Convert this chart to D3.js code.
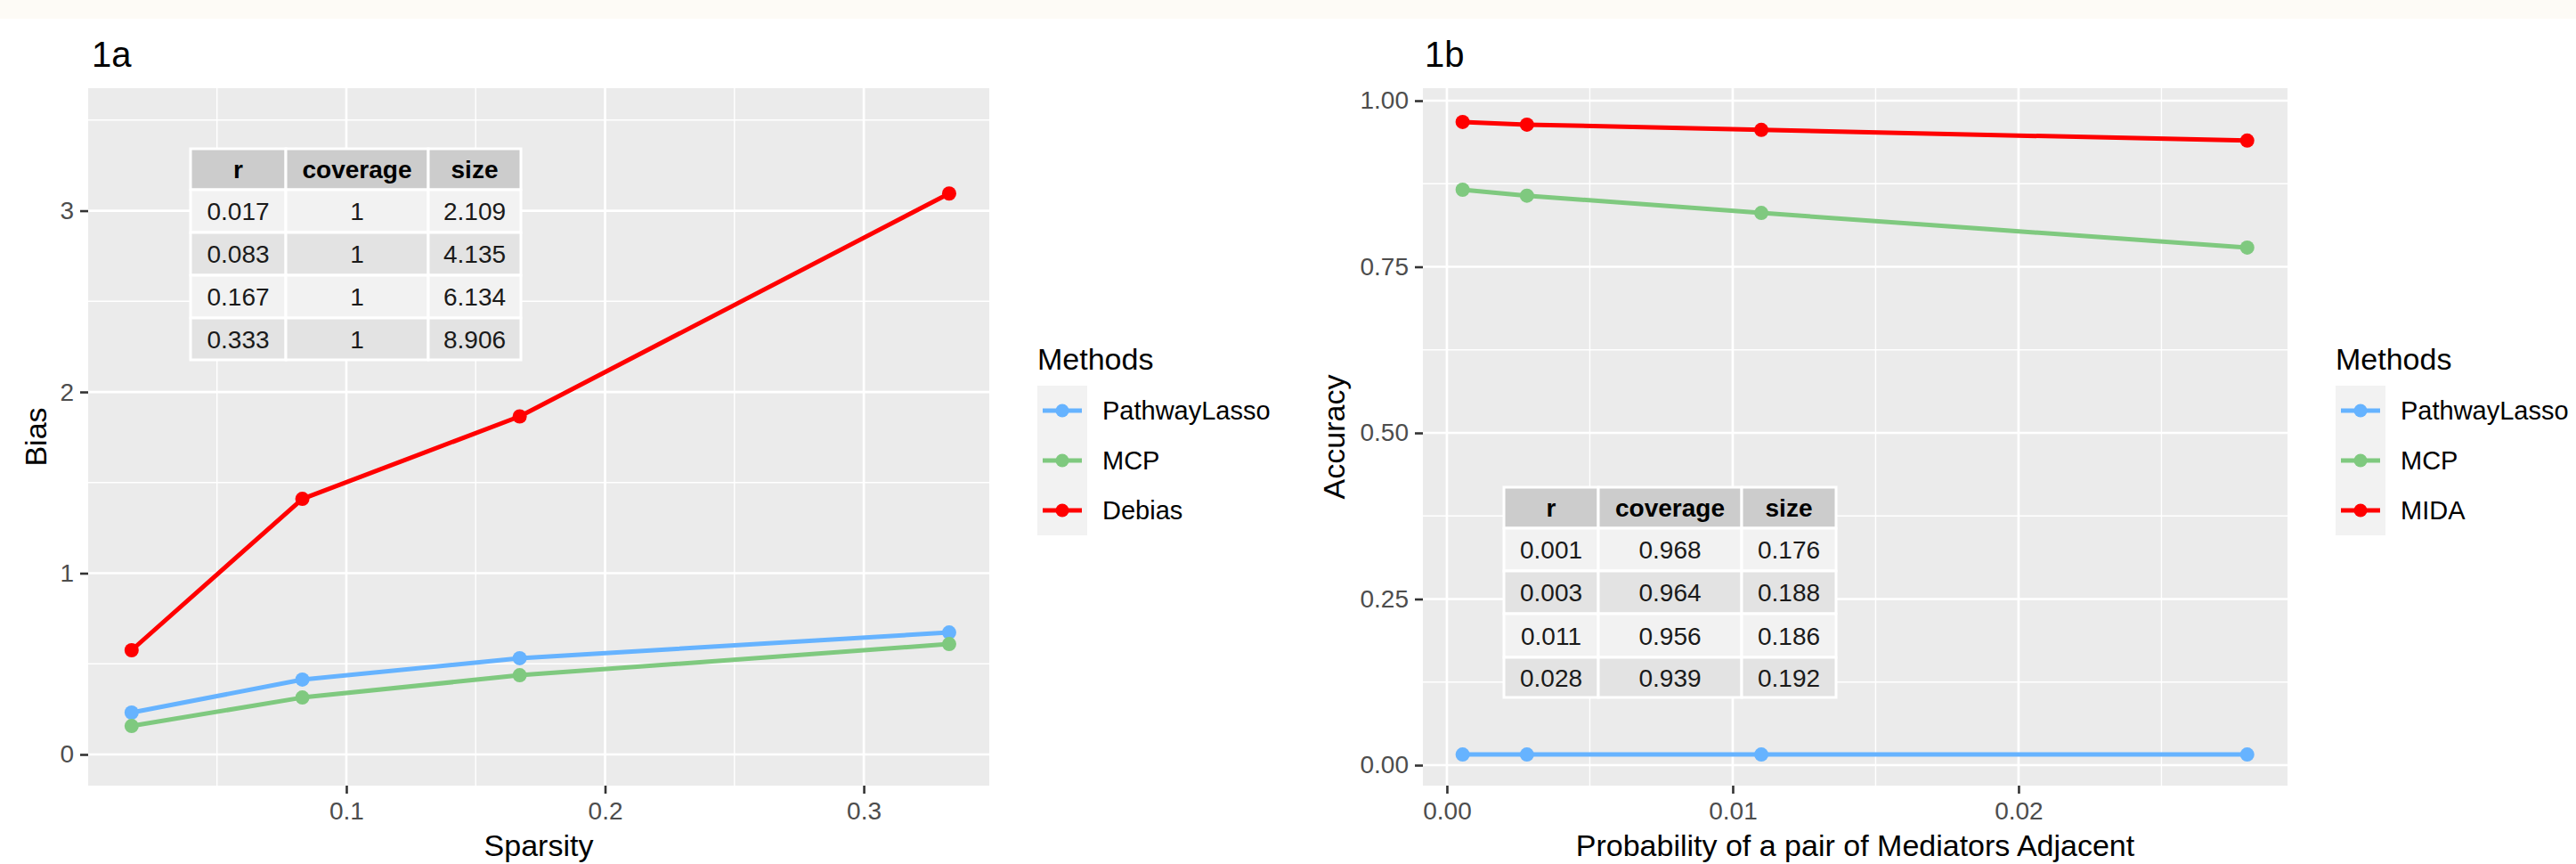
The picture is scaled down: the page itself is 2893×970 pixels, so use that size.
<!DOCTYPE html>
<html>
<head>
<meta charset="utf-8">
<script src="https://cdn.jsdelivr.net/npm/d3@7"></script>
<style>
  html, body { margin: 0; padding: 0; background: #ffffff; }
  svg { display: block; font-family: "Liberation Sans", Arial, sans-serif; }
</style>
</head>
<body>
<svg id="chart" width="2893" height="970"></svg>
<script>
// ---------------- DATA ----------------
const methodsA = ["PathwayLasso", "MCP", "Debias"];
const methodsB = ["PathwayLasso", "MCP", "MIDA"];
const methodColors = ["#66b3ff", "#7fc97f", "#ff0000"];

// Panel 1a
const sparsity = [0.017, 0.083, 0.167, 0.333];
const biasPathwayLasso = [0.231, 0.413, 0.531, 0.673];
const biasMCP = [0.157, 0.314, 0.437, 0.609];
const biasDebias = [0.575, 1.41, 1.865, 3.095];
const biasTicks = [0, 1, 2, 3];
const sparsityTicks = [0.1, 0.2, 0.3];

// Panel 1b
const adjProb = [0.00055, 0.0028, 0.011, 0.028];
const accPathwayLasso = [0.016, 0.016, 0.016, 0.016];
const accMCP = [0.866, 0.857, 0.831, 0.779];
const accMIDA = [0.968, 0.964, 0.956, 0.940];
const accTicks = [0, 0.25, 0.5, 0.75, 1.0];
const adjTicks = [0.00, 0.01, 0.02];

// Inset tables
const tableHeader = ["r", "coverage", "size"];
const tableA_r = ["0.017", "0.083", "0.167", "0.333"];
const tableA_coverage = ["1", "1", "1", "1"];
const tableA_size = ["2.109", "4.135", "6.134", "8.906"];
const tableB_r = ["0.001", "0.003", "0.011", "0.028"];
const tableB_coverage = ["0.968", "0.964", "0.956", "0.939"];
const tableB_size = ["0.176", "0.188", "0.186", "0.192"];

// ---------------- DRAW ----------------
const svg = d3.select("#chart");
svg.append("rect").attr("x", 0).attr("y", 0).attr("width", 2893).attr("height", 970).attr("fill", "#ffffff");
svg.append("rect").attr("x", 0).attr("y", 0).attr("width", 2893).attr("height", 21).attr("fill", "#fdfbf6");

function drawPanel(cfg) {
  const g = svg.append("g");
  const x = d3.scaleLinear().domain(cfg.xDomain).range([cfg.left, cfg.right]);
  const y = d3.scaleLinear().domain(cfg.yDomain).range([cfg.bottom, cfg.top]);

  // panel background
  g.append("rect").attr("x", cfg.left).attr("y", cfg.top)
    .attr("width", cfg.right - cfg.left).attr("height", cfg.bottom - cfg.top)
    .attr("fill", "#ebebeb");

  // minor grid
  const xMinor = cfg.xMinor.filter(v => v >= cfg.xDomain[0] && v <= cfg.xDomain[1]);
  const yMinor = cfg.yMinor.filter(v => v >= cfg.yDomain[0] && v <= cfg.yDomain[1]);
  g.selectAll(".xminor").data(xMinor).join("line")
    .attr("x1", d => x(d)).attr("x2", d => x(d)).attr("y1", cfg.top).attr("y2", cfg.bottom)
    .attr("stroke", "#ffffff").attr("stroke-width", 1.4);
  g.selectAll(".yminor").data(yMinor).join("line")
    .attr("y1", d => y(d)).attr("y2", d => y(d)).attr("x1", cfg.left).attr("x2", cfg.right)
    .attr("stroke", "#ffffff").attr("stroke-width", 1.4);
  // major grid
  g.selectAll(".xmajor").data(cfg.xTicks).join("line")
    .attr("x1", d => x(d)).attr("x2", d => x(d)).attr("y1", cfg.top).attr("y2", cfg.bottom)
    .attr("stroke", "#ffffff").attr("stroke-width", 2.7);
  g.selectAll(".ymajor").data(cfg.yTicks).join("line")
    .attr("y1", d => y(d)).attr("y2", d => y(d)).attr("x1", cfg.left).attr("x2", cfg.right)
    .attr("stroke", "#ffffff").attr("stroke-width", 2.7);

  // axes
  const xAxis = d3.axisBottom(x).tickValues(cfg.xTicks).tickFormat(cfg.xFormat).tickSize(9).tickPadding(7);
  const yAxis = d3.axisLeft(y).tickValues(cfg.yTicks).tickFormat(cfg.yFormat).tickSize(9).tickPadding(7);
  const gx = g.append("g").attr("transform", `translate(0,${cfg.bottom})`).call(xAxis);
  const gy = g.append("g").attr("transform", `translate(${cfg.left},0)`).call(yAxis);
  [gx, gy].forEach(a => {
    a.select(".domain").remove();
    a.selectAll(".tick line").attr("stroke", "#333333").attr("stroke-width", 2.6);
    a.selectAll(".tick text").attr("fill", "#4d4d4d").style("font-size", "28px")
      .style("font-family", "'Liberation Sans', Arial, sans-serif");
  });
  gx.selectAll(".tick text").attr("dy", "0.8em");

  // table inset
  const tbl = cfg.table;
  const cols = [tbl.r, tbl.coverage, tbl.size];
  let cy = tbl.y0;
  const rowsH = tbl.rowHeights;
  let cx = tbl.x0;
  tableHeader.forEach((h, j) => {
    g.append("rect").attr("x", cx).attr("y", cy).attr("width", tbl.colWidths[j]).attr("height", rowsH[0])
      .attr("fill", "#cccccc").attr("stroke", "#ffffff").attr("stroke-width", 3);
    g.append("text").attr("x", cx + tbl.colWidths[j] / 2).attr("y", cy + rowsH[0] / 2)
      .attr("dy", "0.36em").attr("text-anchor", "middle").attr("fill", "#000000")
      .style("font-size", "28px").style("font-weight", "bold").text(h);
    cx += tbl.colWidths[j];
  });
  cy += rowsH[0];
  for (let i = 0; i < tbl.r.length; i++) {
    cx = tbl.x0;
    cols.forEach((col, j) => {
      g.append("rect").attr("x", cx).attr("y", cy).attr("width", tbl.colWidths[j]).attr("height", rowsH[i + 1])
        .attr("fill", i % 2 === 0 ? "#f2f2f2" : "#e3e3e3").attr("stroke", "#ffffff").attr("stroke-width", 3);
      g.append("text").attr("x", cx + tbl.colWidths[j] / 2).attr("y", cy + rowsH[i + 1] / 2)
        .attr("dy", "0.36em").attr("text-anchor", "middle").attr("fill", "#1a1a1a")
        .style("font-size", "28px").text(col[i]);
      cx += tbl.colWidths[j];
    });
    cy += rowsH[i + 1];
  }

  // lines and points
  const line = d3.line().x(d => x(d[0])).y(d => y(d[1]));
  cfg.series.forEach((s, k) => {
    const pts = cfg.xs.map((xv, i) => [xv, s[i]]);
    g.append("path").datum(pts).attr("d", line).attr("fill", "none")
      .attr("stroke", methodColors[k]).attr("stroke-width", 5).attr("stroke-linejoin", "round");
    g.selectAll(null).data(pts).join("circle")
      .attr("cx", d => x(d[0])).attr("cy", d => y(d[1])).attr("r", 8)
      .attr("fill", methodColors[k]);
  });

  // title
  g.append("text").attr("x", cfg.titleX).attr("y", 75).attr("fill", "#000000")
    .style("font-size", "40px").text(cfg.title);
  // axis titles
  g.append("text").attr("x", (cfg.left + cfg.right) / 2).attr("y", 961).attr("text-anchor", "middle")
    .attr("fill", "#000000").style("font-size", "34px").text(cfg.xLabel);
  g.append("text").attr("transform", `translate(${cfg.yLabelX},${(cfg.top + cfg.bottom) / 2}) rotate(-90)`)
    .attr("text-anchor", "middle").attr("dy", "0.35em")
    .attr("fill", "#000000").style("font-size", "34px").text(cfg.yLabel);

  // legend
  const lg = g.append("g");
  lg.append("text").attr("x", cfg.legendX).attr("y", 415).attr("fill", "#000000")
    .style("font-size", "34px").text("Methods");
  lg.append("rect").attr("x", cfg.legendX).attr("y", 433).attr("width", 56).attr("height", 168)
    .attr("fill", "#f2f2f2");
  cfg.methods.forEach((m, k) => {
    const ky = 433 + 28 + k * 56;
    lg.append("line").attr("x1", cfg.legendX + 6).attr("x2", cfg.legendX + 50)
      .attr("y1", ky).attr("y2", ky).attr("stroke", methodColors[k]).attr("stroke-width", 5);
    lg.append("circle").attr("cx", cfg.legendX + 28).attr("cy", ky).attr("r", 7.5)
      .attr("fill", methodColors[k]);
    lg.append("text").attr("x", cfg.legendX + 73).attr("y", ky).attr("dy", "0.36em")
      .attr("fill", "#000000").style("font-size", "29px").text(m);
  });
}

drawPanel({
  left: 99, right: 1111, top: 99, bottom: 882,
  xDomain: [0.0002, 0.3485], yDomain: [-0.172, 3.676],
  xTicks: sparsityTicks, yTicks: biasTicks,
  xMinor: [0.05, 0.15, 0.25, 0.35], yMinor: [-0.5, 0.5, 1.5, 2.5, 3.5],
  xFormat: d3.format(".1f"), yFormat: d3.format("d"),
  xs: sparsity, series: [biasPathwayLasso, biasMCP, biasDebias],
  methods: methodsA,
  title: "1a", titleX: 103,
  xLabel: "Sparsity", yLabel: "Bias", yLabelX: 40,
  legendX: 1165,
  table: { x0: 214, y0: 167, colWidths: [107, 160, 104], rowHeights: [46, 48, 48, 48, 47],
           r: tableA_r, coverage: tableA_coverage, size: tableA_size }
});

drawPanel({
  left: 1598, right: 2569, top: 99, bottom: 882,
  xDomain: [-0.00084, 0.02941], yDomain: [-0.0308, 1.0188],
  xTicks: adjTicks, yTicks: accTicks,
  xMinor: [0.005, 0.015, 0.025], yMinor: [0.125, 0.375, 0.625, 0.875],
  xFormat: d3.format(".2f"), yFormat: d3.format(".2f"),
  xs: adjProb, series: [accPathwayLasso, accMCP, accMIDA],
  methods: methodsB,
  title: "1b", titleX: 1600,
  xLabel: "Probability of a pair of Mediators Adjacent", yLabel: "Accuracy", yLabelX: 1498,
  legendX: 2623,
  table: { x0: 1689, y0: 547, colWidths: [106, 161, 106], rowHeights: [46, 48, 48, 49, 45],
           r: tableB_r, coverage: tableB_coverage, size: tableB_size }
});
</script>
</body>
</html>
